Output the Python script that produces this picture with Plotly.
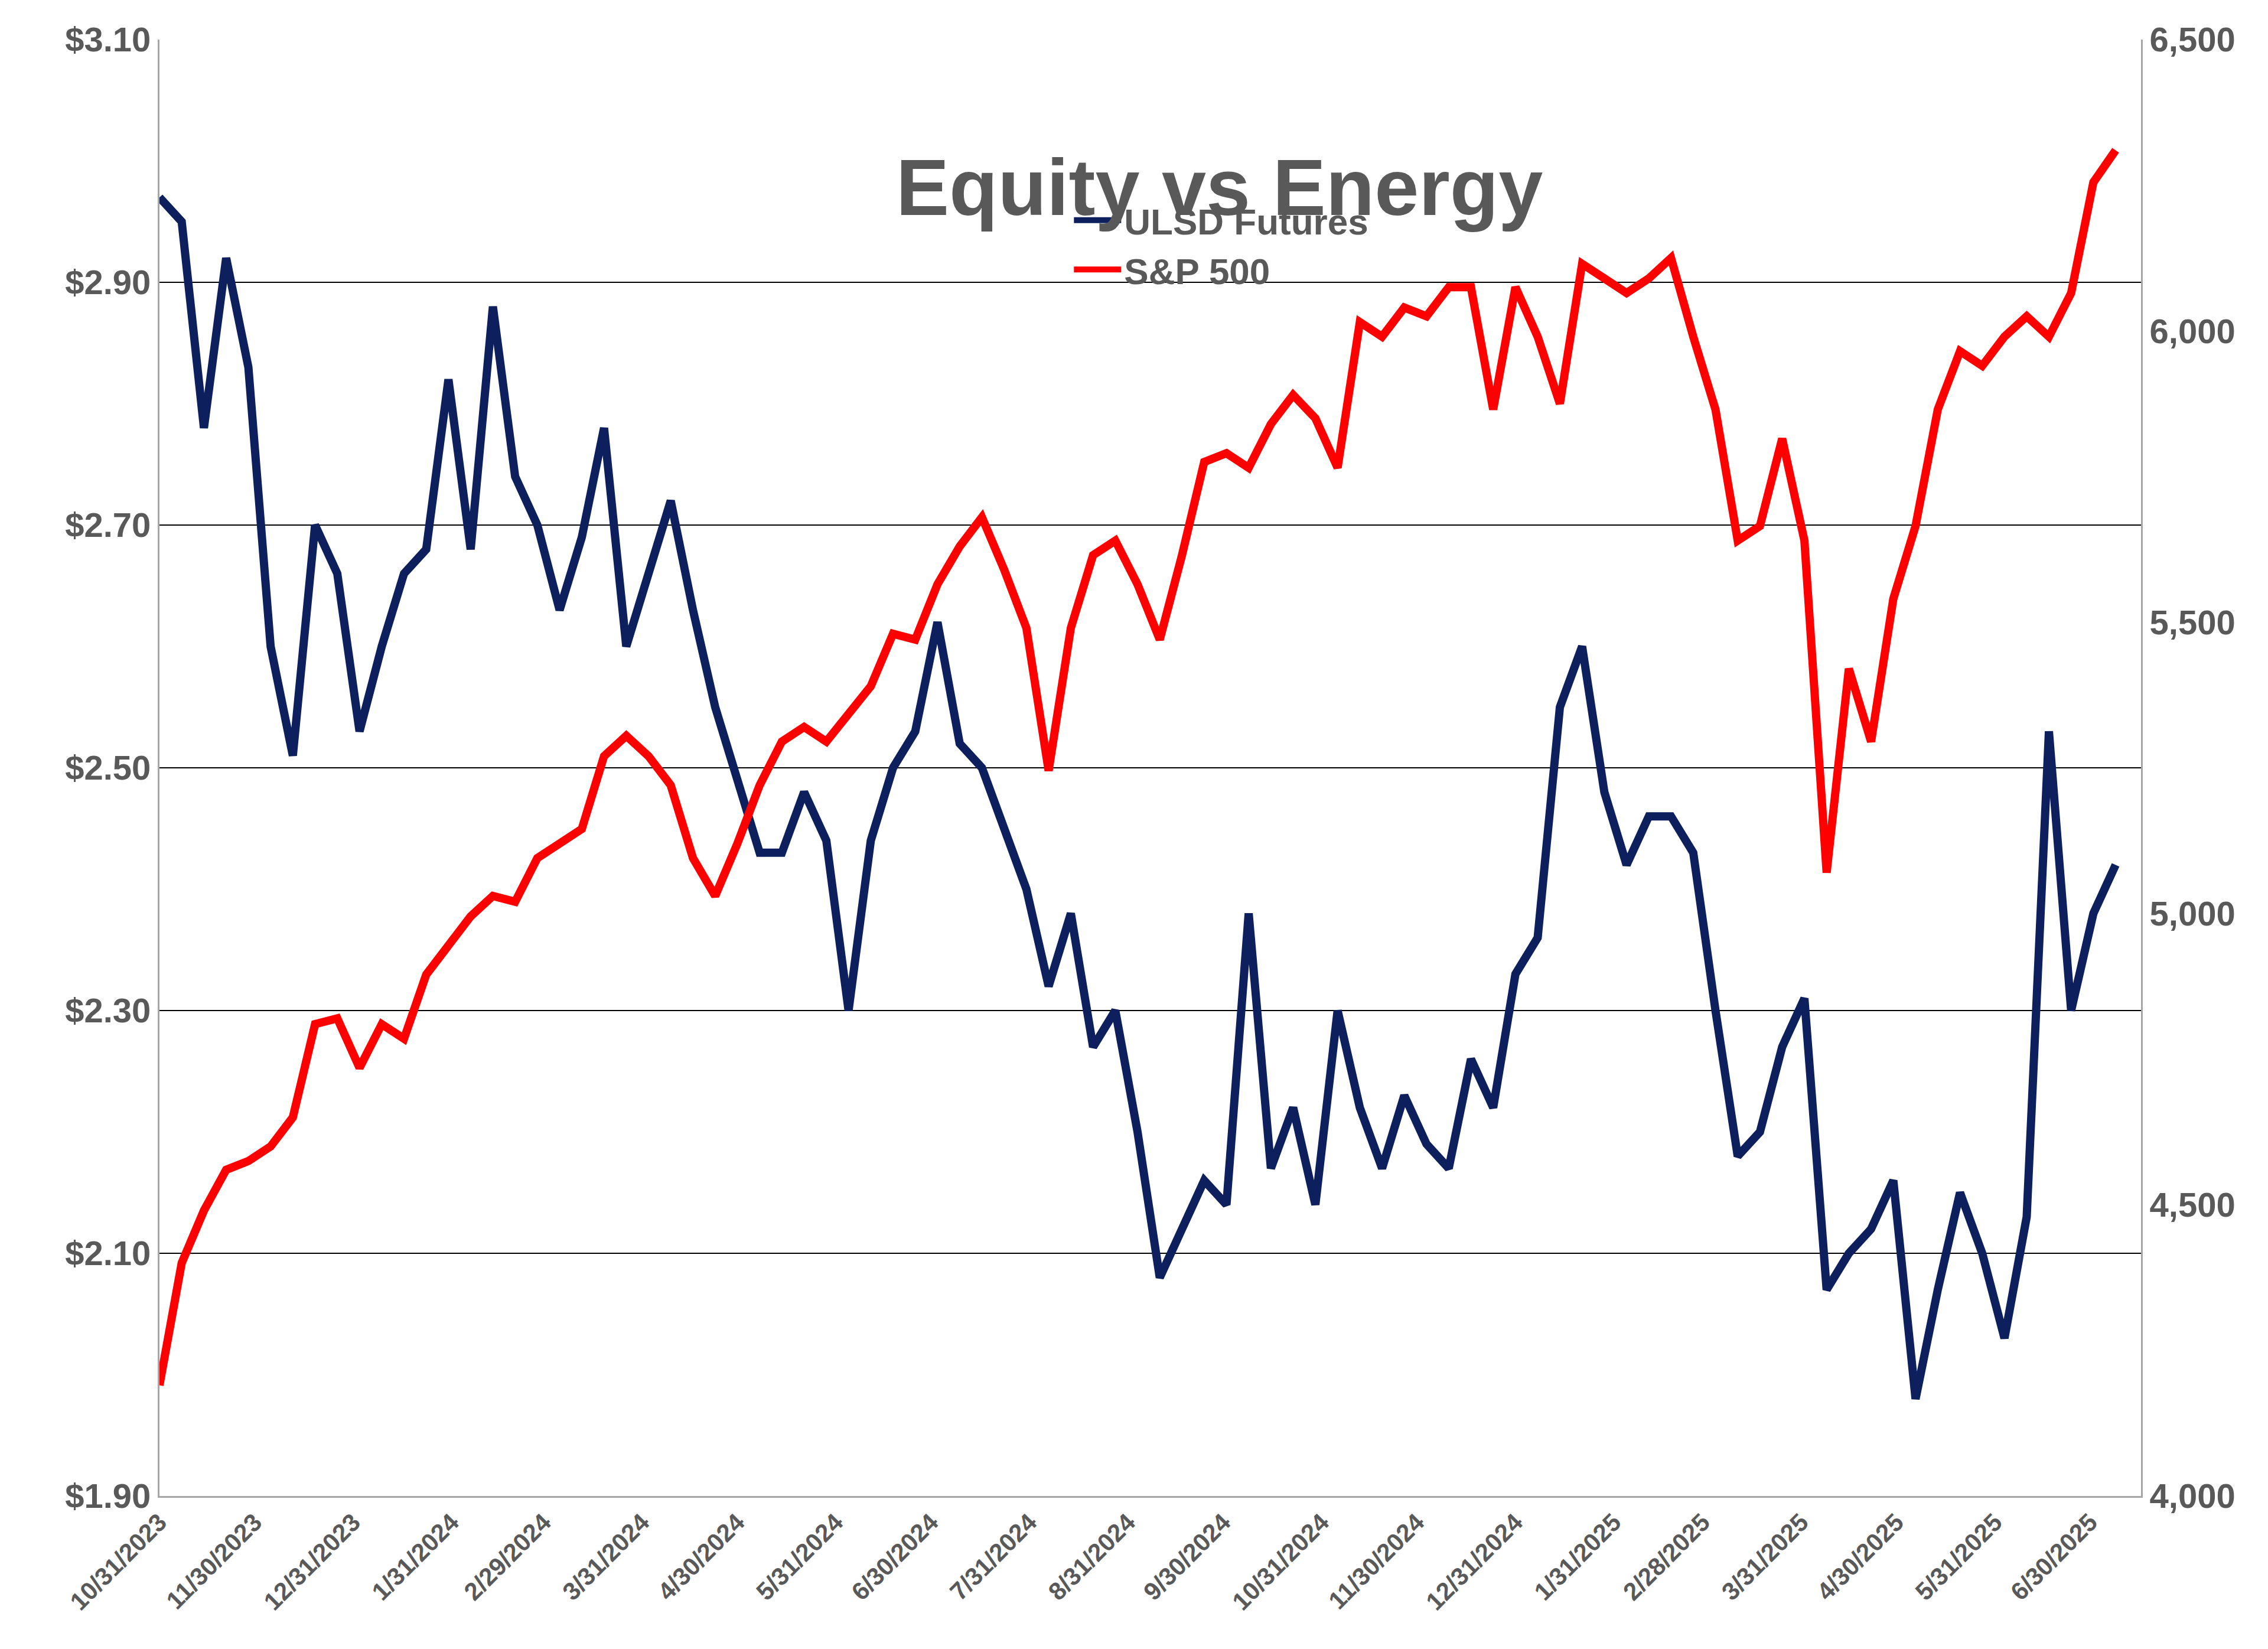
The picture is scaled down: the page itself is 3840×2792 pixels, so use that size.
import pandas as pd
import plotly.graph_objects as go

# weekly samples, starting 10/31/2023
start_date = "2023-10-31"
ulsd = [2.97, 2.95, 2.78, 2.92, 2.83, 2.60, 2.51, 2.70, 2.66, 2.53,
        2.60, 2.66, 2.68, 2.82, 2.68, 2.88, 2.74, 2.70, 2.63, 2.69,
        2.78, 2.60, 2.66, 2.72, 2.63, 2.55, 2.49, 2.43, 2.43, 2.48,
        2.44, 2.30, 2.44, 2.50, 2.53, 2.62, 2.52, 2.50, 2.45, 2.40,
        2.32, 2.38, 2.27, 2.30, 2.20, 2.08, 2.12, 2.16, 2.14, 2.38,
        2.17, 2.22, 2.14, 2.30, 2.22, 2.17, 2.23, 2.19, 2.17, 2.26,
        2.22, 2.33, 2.36, 2.55, 2.60, 2.48, 2.42, 2.46, 2.46, 2.43,
        2.30, 2.18, 2.20, 2.27, 2.31, 2.07, 2.10, 2.12, 2.16, 1.98,
        2.07, 2.15, 2.10, 2.03, 2.13, 2.53, 2.30, 2.38, 2.42]
spx = [4190, 4400, 4490, 4560, 4575, 4600, 4650, 4810, 4820, 4735,
       4810, 4785, 4895, 4945, 4995, 5030, 5020, 5095, 5120, 5145,
       5270, 5305, 5270, 5220, 5095, 5030, 5120, 5220, 5295, 5320,
       5295, 5345, 5390, 5480, 5470, 5565, 5630, 5680, 5590, 5490,
       5245, 5490, 5615, 5640, 5565, 5470, 5615, 5775, 5790, 5765,
       5840, 5890, 5850, 5765, 6015, 5990, 6040, 6025, 6075, 6075,
       5865, 6075, 5990, 5875, 6115, 6090, 6065, 6090, 6125, 5990,
       5865, 5640, 5665, 5815, 5640, 5070, 5420, 5295, 5540, 5665,
       5865, 5965, 5940, 5990, 6025, 5990, 6065, 6255, 6310]
dates = pd.date_range(start_date, periods=len(ulsd), freq="7D")

tick_dates = pd.date_range("2023-10-31", "2025-06-30", freq="ME")
tick_text = [f"<b>{d.month}/{d.day}/{d.year}</b>" for d in tick_dates]
ulsd_ticks = [1.90, 2.10, 2.30, 2.50, 2.70, 2.90, 3.10]
spx_ticks = [4000, 4500, 5000, 5500, 6000, 6500]

fig = go.Figure()
fig.add_trace(go.Scatter(x=dates, y=ulsd, name="<b>ULSD Futures</b>", mode="lines",
                         line=dict(color="#0d1f5c", width=14)))
fig.add_trace(go.Scatter(x=dates, y=spx, name="<b>S&P 500</b>", mode="lines", yaxis="y2",
                         line=dict(color="#ff0000", width=14)))

tick_font = dict(family="Liberation Sans", size=58, color="#595959")
fig.update_layout(
    width=3840, height=2792,
    paper_bgcolor="white", plot_bgcolor="white",
    margin=dict(l=262, r=223, t=59, b=267),
    xaxis=dict(range=["2023-10-31", "2025-07-16"], tickvals=tick_dates, ticktext=tick_text,
               tickangle=-45, tickfont=dict(family="Liberation Sans", size=42, color="#595959"),
               showgrid=False, showline=True, linecolor="#a6a6a6", linewidth=3),
    yaxis=dict(range=[1.90, 3.10], tickvals=ulsd_ticks,
               ticktext=[f"<b>${v:.2f}</b>" for v in ulsd_ticks], tickfont=tick_font,
               showgrid=True, gridcolor="black", gridwidth=2, zeroline=False,
               showline=True, linecolor="#a6a6a6", linewidth=3),
    yaxis2=dict(range=[4000, 6500], tickvals=spx_ticks,
                ticktext=[f"<b>{v:,}</b>" for v in spx_ticks], tickfont=tick_font,
                overlaying="y", side="right", showgrid=False, zeroline=False,
                showline=True, linecolor="#a6a6a6", linewidth=3),
    legend=dict(x=0.46, y=0.895, xanchor="left", yanchor="top",
                font=dict(family="Liberation Sans", size=62, color="#595959"),
                bgcolor="rgba(0,0,0,0)", itemwidth=80, tracegroupgap=20),
    showlegend=True,
)
fig.add_annotation(text="<b>Equity vs Energy</b>", xref="paper", yref="paper",
                   x=0.535, y=0.93, showarrow=False,
                   font=dict(family="Liberation Sans", size=135, color="#595959"))
fig.add_shape(type="rect", xref="paper", yref="paper", x0=-0.185, x1=1.158, y0=-0.264, y1=1.056,
              line=dict(color="#d9d9d9", width=4))
fig.write_html("out.html")
